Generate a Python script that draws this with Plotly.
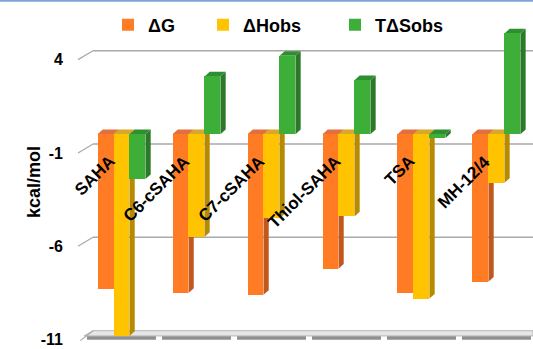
import plotly.graph_objects as go

# Binding thermodynamics per inhibitor (kcal/mol)
compounds = ["SAHA", "C6-cSAHA", "C7-cSAHA", "Thiol-SAHA", "TSA", "MH-12/4"]
dG = [-8.3, -8.5, -8.6, -7.2, -8.5, -7.9]
dH_obs = [-10.8, -5.5, -4.5, -4.4, -8.8, -2.6]
TdS_obs = [-2.4, 3.1, 4.2, 2.9, -0.2, 5.4]

series_names = ["ΔG", "ΔHobs", "TΔSobs"]
y_ticks = [4, -1, -6, -11]
y_tick_text = ["4", "-1", "-6", "-11"]

W, H = 533, 349
ML, MT = 73, 26
X_RANGE = [-0.647, 5.487]
Y_RANGE = [-11.5, 5.8]

# front / side / top face colours for each series
FRONT = ["#ff7b24", "#ffc300", "#3dae38"]
SIDE = ["#c2581c", "#b78b00", "#2a7a2a"]
TOP = ["#e2703e", "#d8a82a", "#2f8f30"]

BAR_W = 0.213
OFFSETS = [-0.32, -0.107, 0.106]
DX, DY = 0.07, 0.25          # bar depth (x units, y units)
GX_BACK, GX_FRONT, G_DY = -0.38, -0.58, 0.48   # back wall offset for gridlines

FONT = "Liberation Sans, Arial, sans-serif"

values = [dG, dH_obs, TdS_obs]
xs = list(range(len(compounds)))

fig = go.Figure()
shapes = []

# back-wall gridlines with the short diagonal to the tick position
for t in y_ticks[:-1]:
    shapes.append(dict(type="line", xref="x", yref="y", layer="below",
                       x0=GX_BACK, x1=X_RANGE[1], y0=t + G_DY, y1=t + G_DY,
                       line=dict(color="#a9a9a9", width=1.5)))
    shapes.append(dict(type="line", xref="x", yref="y", layer="below",
                       x0=GX_FRONT, x1=GX_BACK, y0=t, y1=t + G_DY,
                       line=dict(color="#a9a9a9", width=1.2)))

# floor slab at the bottom of the axis
fl = y_ticks[-1]
shapes.append(dict(type="path", xref="x", yref="y", layer="below",
                   path=f"M{GX_BACK},{fl + G_DY} L{X_RANGE[1]},{fl + G_DY} "
                        f"L{X_RANGE[1]},{fl + 0.2} L{GX_FRONT + 0.08},{fl + 0.2} Z",
                   fillcolor="#e6e6e6", line=dict(color="#b5b5b5", width=1)))
shapes.append(dict(type="line", xref="x", yref="y", layer="below",
                   x0=GX_FRONT + 0.03, x1=GX_BACK, y0=fl - 0.05, y1=fl + G_DY,
                   line=dict(color="#a9a9a9", width=1.2)))
for x in xs:
    shapes.append(dict(type="rect", xref="x", yref="y", layer="below",
                       x0=x - 0.46, x1=x + 0.46, y0=fl - 0.0, y1=fl + 0.18,
                       fillcolor="#8f8f8f", line=dict(width=0)))

# side and top faces of every bar, derived from the same values
for s, vals in enumerate(values):
    for x, v in zip(xs, vals):
        x0 = x + OFFSETS[s]
        x1 = x0 + BAR_W
        top, bot = max(v, 0), min(v, 0)
        shapes.append(dict(type="path", xref="x", yref="y", layer="between",
                           path=f"M{x1},{top} L{x1 + DX},{top + DY} L{x1 + DX},{bot + DY} L{x1},{bot} Z",
                           fillcolor=SIDE[s], line=dict(width=0)))
        shapes.append(dict(type="path", xref="x", yref="y", layer="between",
                           path=f"M{x0},{top} L{x0 + DX},{top + DY} L{x1 + DX},{top + DY} L{x1},{top} Z",
                           fillcolor=TOP[s], line=dict(width=0)))

# front faces
legend_ids = ["legend", "legend2", "legend3"]
for s, vals in enumerate(values):
    fig.add_trace(go.Bar(
        x=xs, y=vals, name=series_names[s], width=BAR_W, offset=OFFSETS[s],
        marker=dict(color=FRONT[s], line=dict(width=0)),
        legend=legend_ids[s], hoverinfo="skip",
    ))

# thin blue rule along the top edge
shapes.append(dict(type="line", xref="paper", yref="paper",
                   x0=-ML / (W - ML), x1=1, y0=(H - 0.8) / (H - MT), y1=(H - 0.8) / (H - MT),
                   line=dict(color="#7ea5d6", width=2)))

annotations = []
# compound names written along the zero line
for x, name in zip(xs, compounds):
    annotations.append(dict(x=x, y=-0.8, xref="x", yref="y", text=name,
                            showarrow=False, textangle=-45, xanchor="right", yanchor="top",
                            font=dict(family=FONT, size=17, color="#000", weight="bold")))
annotations.append(dict(x=(22 - ML) / (W - ML), y=(H - 182) / (H - MT), xref="paper", yref="paper",
                        text="kcal/mol", showarrow=False, textangle=-90,
                        font=dict(family=FONT, size=18, color="#000", weight="bold")))

legend_style = dict(orientation="h", yanchor="middle", xanchor="left",
                    y=(H - 25) / (H - MT), bgcolor="rgba(0,0,0,0)",
                    font=dict(family=FONT, size=18, color="#000", weight="bold"))
legend_x = [(108 - ML) / (W - ML), (203 - ML) / (W - ML), (335 - ML) / (W - ML)]

fig.update_layout(
    width=W, height=H,
    margin=dict(l=ML, r=0, t=MT, b=0),
    paper_bgcolor="white", plot_bgcolor="white",
    barmode="overlay", bargap=0,
    showlegend=True,
    legend=dict(legend_style, x=legend_x[0]),
    legend2=dict(legend_style, x=legend_x[1]),
    legend3=dict(legend_style, x=legend_x[2]),
    xaxis=dict(range=X_RANGE, visible=False, fixedrange=True),
    yaxis=dict(range=Y_RANGE, showgrid=False, zeroline=False, showline=False,
               tickmode="array", tickvals=y_ticks, ticktext=y_tick_text,
               ticks="", ticklabelstandoff=9,
               tickfont=dict(family=FONT, size=16, color="#000", weight="bold")),
    shapes=shapes,
    annotations=annotations,
)

fig.write_html("out.html")
